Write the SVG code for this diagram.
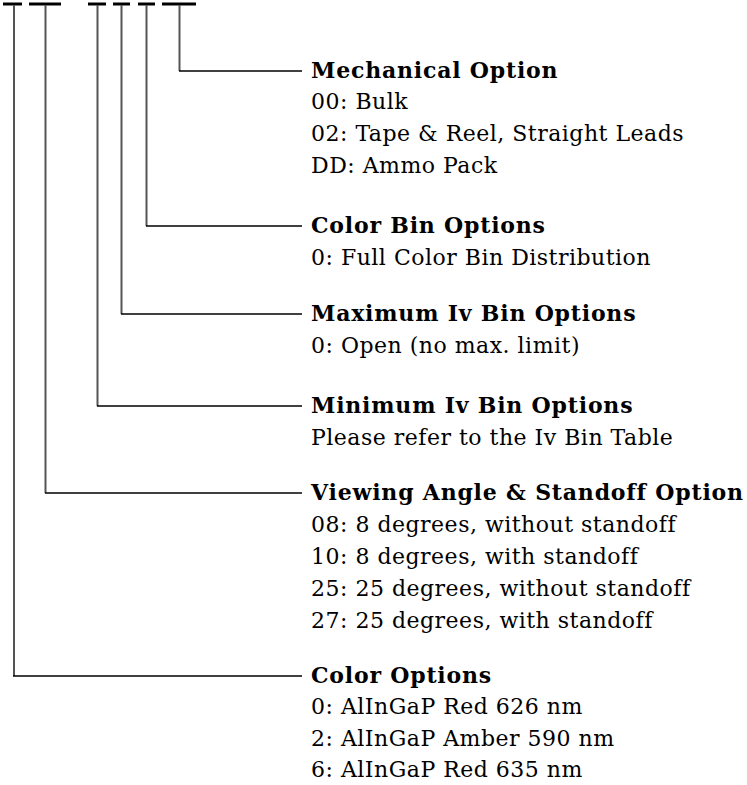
<svg xmlns="http://www.w3.org/2000/svg" width="747" height="785" viewBox="0 0 747 785">
<style>
.bar{stroke:#000;stroke-width:3;fill:none}
.v{stroke:#555;stroke-width:2;fill:none}
.h{stroke:#000;stroke-width:1.5;fill:none}
text{font-family:"DejaVu Serif","Liberation Serif",serif;font-size:22px;fill:#000;letter-spacing:0.5px}
.hd{font-weight:bold;letter-spacing:0.8px}
</style>
<rect width="747" height="785" fill="#fff"/>
<g id="connectors">
<line class="bar" x1="3" y1="4" x2="22" y2="4"/>
<line class="bar" x1="29" y1="4" x2="61" y2="4"/>
<line class="bar" x1="88" y1="4" x2="106" y2="4"/>
<line class="bar" x1="113" y1="4" x2="130" y2="4"/>
<line class="bar" x1="138" y1="4" x2="155" y2="4"/>
<line class="bar" x1="162" y1="4" x2="196" y2="4"/>
<polyline class="v" points="179.5,5 179.5,71"/>
<line class="h" x1="179" y1="71" x2="302" y2="71"/>
<polyline class="v" points="146.5,5 146.5,226"/>
<line class="h" x1="146" y1="226" x2="302" y2="226"/>
<polyline class="v" points="121.5,5 121.5,314"/>
<line class="h" x1="121" y1="314" x2="302" y2="314"/>
<polyline class="v" points="97.5,5 97.5,406"/>
<line class="h" x1="97" y1="406" x2="302" y2="406"/>
<polyline class="v" points="45.5,5 45.5,493"/>
<line class="h" x1="45" y1="493" x2="302" y2="493"/>
<polyline class="v" points="14,5 14,676"/>
<line class="h" x1="13" y1="676" x2="302" y2="676"/>
</g>
<g id="mechanical">
<text class="hd" x="311" y="78">Mechanical Option</text>
<text x="311" y="109">00: Bulk</text>
<text x="311" y="141">02: Tape &amp; Reel, Straight Leads</text>
<text x="311" y="173">DD: Ammo Pack</text>
</g>
<g id="colorbin">
<text class="hd" x="311" y="233">Color Bin Options</text>
<text x="311" y="265">0: Full Color Bin Distribution</text>
</g>
<g id="maxiv">
<text class="hd" x="311" y="321">Maximum Iv Bin Options</text>
<text x="311" y="353">0: Open (no max. limit)</text>
</g>
<g id="miniv">
<text class="hd" x="311" y="413">Minimum Iv Bin Options</text>
<text x="311" y="445">Please refer to the Iv Bin Table</text>
</g>
<g id="viewing">
<text class="hd" x="311" y="500">Viewing Angle &amp; Standoff Option</text>
<text x="311" y="532">08: 8 degrees, without standoff</text>
<text x="311" y="564">10: 8 degrees, with standoff</text>
<text x="311" y="596">25: 25 degrees, without standoff</text>
<text x="311" y="628">27: 25 degrees, with standoff</text>
</g>
<g id="coloroptions">
<text class="hd" x="311" y="683">Color Options</text>
<text x="311" y="714">0: AlInGaP Red 626 nm</text>
<text x="311" y="746">2: AlInGaP Amber 590 nm</text>
<text x="311" y="777">6: AlInGaP Red 635 nm</text>
</g>
</svg>
